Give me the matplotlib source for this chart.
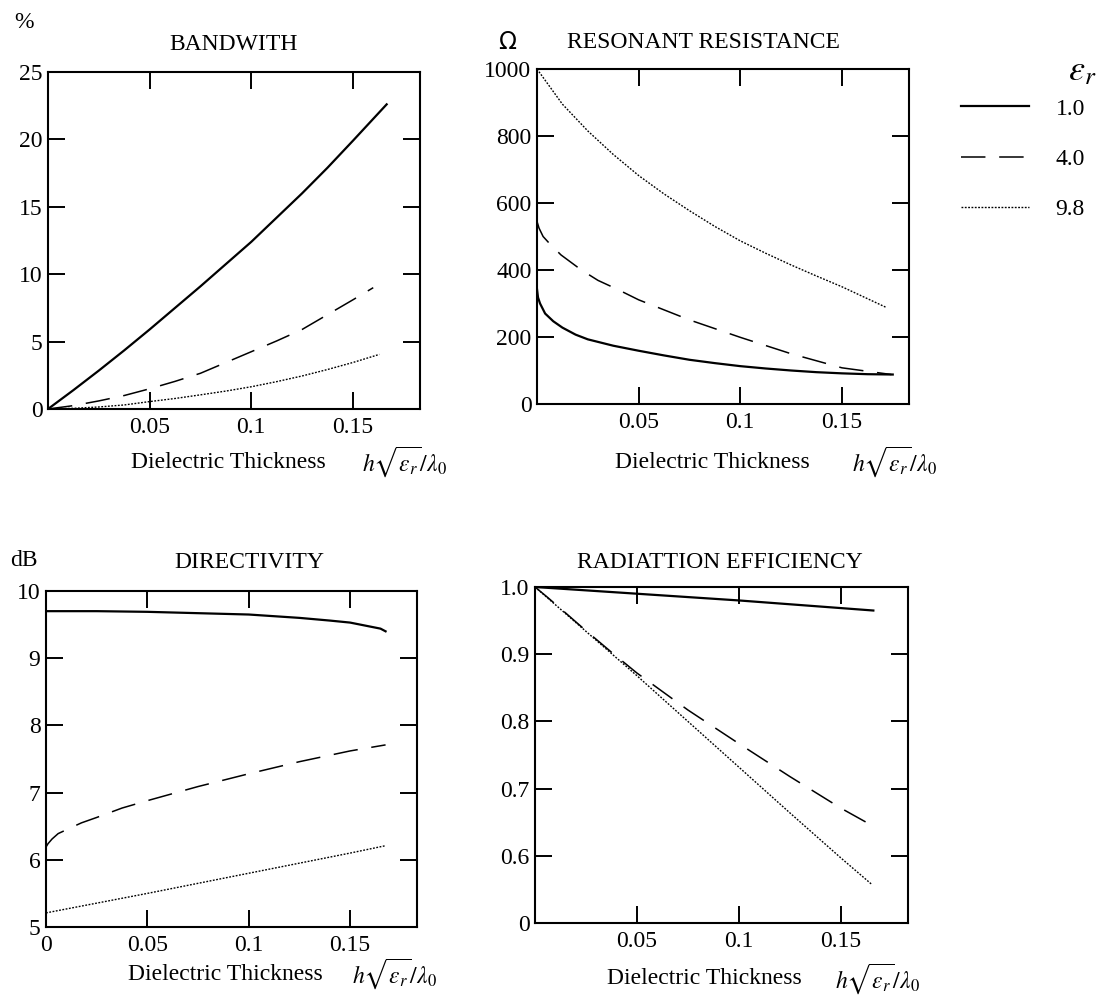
import numpy as np
import matplotlib
matplotlib.use('Agg')
import matplotlib.pyplot as plt

plt.rcParams['font.family'] = 'Liberation Serif'
plt.rcParams['mathtext.fontset'] = 'stix'

W, H = 1096, 999

# series labels (dielectric constant)
eps_labels = ['1.0', '4.0', '9.8']

# bandwidth (%)
bw_x1 = [0, 0.0125, 0.025, 0.0375, 0.05, 0.0625, 0.075, 0.0875, 0.1, 0.1125, 0.125, 0.1375, 0.15, 0.1666]
bw_y1 = [0, 1.4, 2.85, 4.35, 5.9, 7.5, 9.1, 10.75, 12.4, 14.2, 16.0, 17.9, 19.9, 22.6]
bw_x4 = [0, 0.0125, 0.025, 0.0375, 0.05, 0.0625, 0.075, 0.0875, 0.1, 0.1125, 0.125, 0.1375, 0.15, 0.16]
bw_y4 = [0, 0.25, 0.6, 1.0, 1.5, 2.05, 2.65, 3.45, 4.25, 5.05, 5.9, 7.0, 8.1, 9.0]
bw_x98 = [0, 0.0125, 0.025, 0.0375, 0.05, 0.0625, 0.075, 0.0875, 0.1, 0.1125, 0.125, 0.1375, 0.15, 0.163]
bw_y98 = [0, 0.05, 0.15, 0.3, 0.55, 0.78, 1.05, 1.33, 1.65, 2.03, 2.45, 2.93, 3.45, 4.05]

# resonant resistance (ohm)
rr_x1 = [0, 0.0005, 0.0015, 0.004, 0.008, 0.0125, 0.019, 0.025, 0.0375, 0.05, 0.0625, 0.075,
         0.0875, 0.1, 0.1125, 0.125, 0.1375, 0.15, 0.1625, 0.175]
rr_y1 = [343, 318, 300, 270, 247, 228, 207, 193, 174, 159, 145, 132,
         122, 113, 106, 100, 95, 91.5, 89, 88]
rr_x4 = [0, 0.001, 0.003, 0.006, 0.0118, 0.0216, 0.03, 0.04, 0.05, 0.075, 0.1, 0.125, 0.15, 0.1743]
rr_y4 = [545, 525, 500, 480, 445, 401, 369, 341, 311, 251, 199, 150, 108, 88]
rr_x98 = [0, 0.0125, 0.025, 0.0375, 0.05, 0.0625, 0.075, 0.0875, 0.1, 0.1125, 0.125, 0.1375, 0.15, 0.1719]
rr_y98 = [1000, 895, 815, 745, 682, 627, 577, 530, 487, 450, 415, 382, 350, 288]

# directivity (dB)
dr_x1 = [0, 0.025, 0.05, 0.075, 0.1, 0.125, 0.14, 0.15, 0.16, 0.165, 0.1675]
dr_y1 = [9.70, 9.70, 9.69, 9.67, 9.65, 9.60, 9.56, 9.53, 9.47, 9.44, 9.40]
dr_x4 = [0, 0.001, 0.003, 0.006, 0.011, 0.0175, 0.025, 0.0375, 0.05, 0.075, 0.1, 0.125, 0.15, 0.1675]
dr_y4 = [6.19, 6.24, 6.31, 6.39, 6.46, 6.55, 6.63, 6.77, 6.88, 7.09, 7.28, 7.46, 7.62, 7.71]
dr_x98 = [0, 0.05, 0.1, 0.15, 0.1675]
dr_y98 = [5.21, 5.50, 5.80, 6.10, 6.21]

# radiation efficiency
ef_x1 = [0, 0.05, 0.1, 0.166]
ef_y1 = [1.0, 0.990, 0.980, 0.965]
ef_x4 = [0, 0.006, 0.0125, 0.025, 0.0375, 0.05, 0.075, 0.1, 0.125, 0.15, 0.166]
ef_y4 = [1.0, 0.985, 0.968, 0.935, 0.903, 0.872, 0.817, 0.767, 0.718, 0.671, 0.644]
ef_x98 = [0, 0.025, 0.05, 0.075, 0.1, 0.125, 0.15, 0.1654]
ef_y98 = [1.0, 0.934, 0.868, 0.800, 0.732, 0.664, 0.597, 0.557]

styles = [
    dict(color='black', lw=1.6, ls='-'),
    dict(color='black', lw=1.1, ls=(0, (16, 9))),
    dict(color='black', lw=1.0, ls=(0, (1.3, 1.1))),
]


def px(x, y):
    return x / W, 1 - y / H


def make_axes(left, top, right, bottom):
    return fig.add_axes([left / W, 1 - bottom / H, (right - left) / W, (bottom - top) / H])


def style_axes(ax, xticks, xlabels, yticks, ylabels):
    ax.set_xlim(0, 0.183)
    ax.set_ylim(yticks[0], yticks[-1])
    ax.set_xticks(xticks)
    ax.set_xticklabels(xlabels)
    ax.set_yticks(yticks)
    ax.set_yticklabels(ylabels)
    ax.tick_params(direction='in', length=12, width=1.4, top=True, right=True, labelsize=17)
    ax.tick_params(axis='x', pad=6)
    ax.tick_params(axis='y', pad=4)
    for sp in ax.spines.values():
        sp.set_linewidth(1.5)


fig = plt.figure(figsize=(W / 100, H / 100), dpi=100)

ax1 = make_axes(48, 72, 420, 409)
ax2 = make_axes(537, 69, 909, 404)
ax3 = make_axes(46, 591, 417, 927)
ax4 = make_axes(535, 587, 908, 923)

lines = []
for xs, ys, st in zip([bw_x1, bw_x4, bw_x98], [bw_y1, bw_y4, bw_y98], styles):
    ln, = ax1.plot(xs, ys, **st)
    lines.append(ln)
for xs, ys, st in zip([rr_x1, rr_x4, rr_x98], [rr_y1, rr_y4, rr_y98], styles):
    ax2.plot(xs, ys, **st)
for xs, ys, st in zip([dr_x1, dr_x4, dr_x98], [dr_y1, dr_y4, dr_y98], styles):
    ax3.plot(xs, ys, **st)
for xs, ys, st in zip([ef_x1, ef_x4, ef_x98], [ef_y1, ef_y4, ef_y98], styles):
    ax4.plot(xs, ys, **st)

xt = [0.05, 0.1, 0.15]
xl = ['0.05', '0.1', '0.15']
style_axes(ax1, xt, xl, [0, 5, 10, 15, 20, 25], ['0', '5', '10', '15', '20', '25'])
style_axes(ax2, xt, xl, [0, 200, 400, 600, 800, 1000], ['0', '200', '400', '600', '800', '1000'])
style_axes(ax3, [0] + xt, ['0'] + xl, [5, 6, 7, 8, 9, 10], ['5', '6', '7', '8', '9', '10'])
style_axes(ax4, xt, xl, [0.5, 0.6, 0.7, 0.8, 0.9, 1.0], ['0', '0.6', '0.7', '0.8', '0.9', '1.0'])

# titles and units
fs = 17
fig.text(*px(24, 22), '%', fontsize=fs, ha='center', va='center')
fig.text(*px(234, 45), 'BANDWITH', fontsize=fs, ha='center', va='center')
fig.text(*px(507, 42), 'Ω', fontsize=fs, ha='center', va='center', family='DejaVu Sans')
fig.text(*px(703, 42), 'RESONANT RESISTANCE', fontsize=fs, ha='center', va='center')
fig.text(*px(24, 560), 'dB', fontsize=fs, ha='center', va='center')
fig.text(*px(249, 563), 'DIRECTIVITY', fontsize=fs, ha='center', va='center')
fig.text(*px(720, 563), 'RADIATTION EFFICIENCY', fontsize=fs, ha='center', va='center')

# x labels
xlab = r'$h\sqrt{\varepsilon_r}/\lambda_0$'
for cx, mx, y in [(228, 362, 462), (712, 852, 462), (225, 352, 974), (704, 835, 979)]:
    fig.text(*px(cx, y), 'Dielectric Thickness', fontsize=fs, ha='center', va='center')
    fig.text(*px(mx, y), xlab, fontsize=fs, ha='left', va='center')

# legend
fig.text(*px(1082, 72), r'$\varepsilon_r$', fontsize=26, ha='center', va='center')
fig.legend(lines, eps_labels, loc='upper left', bbox_to_anchor=px(961, 98),
           frameon=False, fontsize=fs, handlelength=2.9, handletextpad=1.1,
           labelspacing=1.22, borderpad=0, borderaxespad=0)

fig.savefig('out.png', dpi=100)
